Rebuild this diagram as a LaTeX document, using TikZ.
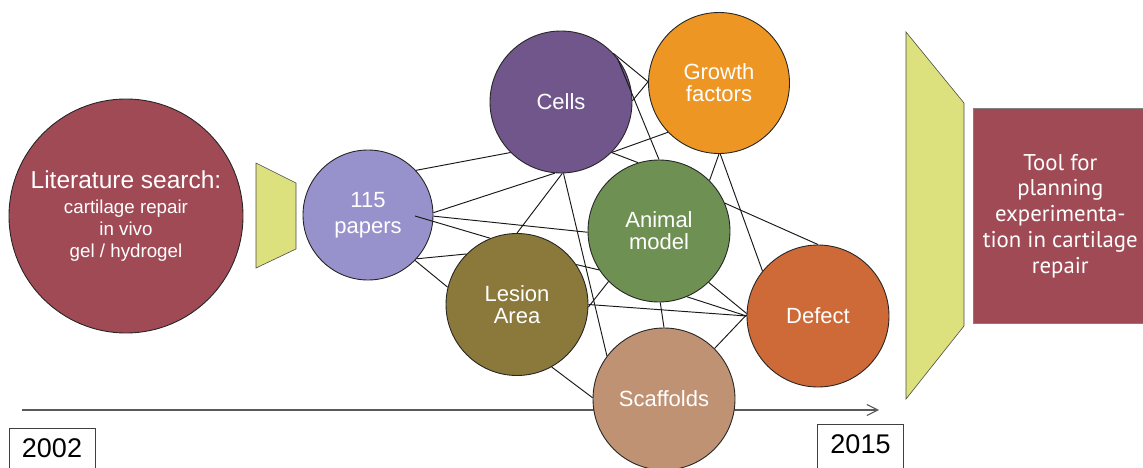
\documentclass[tikz,border=0pt]{standalone}
\usepackage{fontspec}
\setmainfont{Liberation Sans}
\newfontfamily\ptsans{PT Sans}
\usetikzlibrary{arrows.meta}
\definecolor{litred}{RGB}{160,74,86}
\definecolor{trapy}{RGB}{220,225,126}
\definecolor{papersc}{RGB}{152,146,204}
\definecolor{cellsc}{RGB}{113,86,140}
\definecolor{growthc}{RGB}{237,150,36}
\definecolor{animalc}{RGB}{110,145,83}
\definecolor{lesionc}{RGB}{138,121,59}
\definecolor{defectc}{RGB}{206,106,56}
\definecolor{scaffc}{RGB}{191,146,116}
\definecolor{edgec}{RGB}{25,25,25}
\begin{document}
\begin{tikzpicture}[x=1pt,y=-1pt,
  topic/.style={circle, draw=black!85, line width=0.9pt, inner sep=0pt, minimum size=142pt, text=white, align=center, font=\fontsize{22}{22}\selectfont},
  link/.style={draw=edgec, line width=0.95pt},
  trap/.style={draw=black!70, line width=0.6pt, fill=trapy},
  yearbox/.style={draw=black!75, line width=0.8pt, inner sep=0pt, minimum width=86pt, text depth=20pt, anchor=base, font=\fontsize{27}{27}\selectfont},
  timeline/.style={draw=black!65, line width=1.2pt, -{Straight Barb[length=11pt,width=11pt,line width=1.1pt]}}
]
\useasboundingbox (0,0) rectangle (1143,468);
\coordinate (tstart) at (22,410);
\coordinate (tend) at (879,410);
\draw[timeline] (tstart) -- (tend);

\node[topic, fill=litred, minimum size=234pt, font=\fontsize{18.75}{22}\selectfont] (lit) at (126,216)
  {{\fontsize{24.5}{25}\selectfont Literature search:}\\[3pt] cartilage repair\\ in vivo\\ gel / hydrogel};

\draw[trap] (256,163) -- (296,183) -- (296,249) -- (256,268) -- cycle;
\draw[trap] (906,32) -- (964,103) -- (964,326) -- (906,399) -- cycle;

\node[topic, fill=papersc, minimum size=130pt, font=\fontsize{22}{26}\selectfont] (papers) at (368,215) {115\\papers};
\node[topic, fill=cellsc] (cells) at (561,102) {Cells};
\node[topic, fill=growthc, minimum size=141pt] (growth) at (719,83) {Growth\\factors};
\node[topic, fill=animalc] (animal) at (659,231) {Animal\\model};
\node[topic, fill=lesionc] (lesion) at (517,304.5) {Lesion\\Area};
\node[topic, fill=defectc] (defect) at (818,316) {Defect};
\node[topic, fill=scaffc] (scaff) at (664,399) {Scaffolds};

\node[draw=black!50, line width=0.6pt, fill=litred, minimum width=174pt, minimum height=215pt, anchor=north west, inner sep=0pt, text=white, align=center, font=\ptsans\fontsize{22.8}{25.75}\selectfont] (tool) at (973,108)
  {Tool for\\planning\\experimenta-\\tion in cartilage\\repair};

\node[yearbox, text height=29pt] (y2002) at (52,457) {2002};
\node[yearbox, text height=29pt] (y2015) at (860.5,453) {2015};

\draw[link] (papers.43.8) -- (cells.225);
\draw[link] (papers.2) -- (cells.265);
\draw[link] (papers.359) -- (animal.181.7);
\draw[link] (papers.318) -- (lesion.135.6);
\draw[link] (papers.316) -- (lesion.166);
\draw[link] (cells.43.9) -- (growth.179);
\draw[link] (cells.1.6) -- (growth.179);
\draw[link] (cells.38.8) -- (animal.90.8);
\draw[link] (cells.315.6) -- (growth.224.4);
\draw[link] (cells.315.6) -- (animal.107.2);
\draw[link] (cells.271.6) -- (lesion.90);
\draw[link] (cells.272.4) -- (scaff.143.6);
\draw[link] (growth.270) -- (animal.45);
\draw[link] (growth.271.6) -- (defect.141.3);
\draw[link] (animal.23) -- (defect.90.8);
\draw[link] (animal.314.4) -- (defect.178.4);
\draw[link] (animal.293.7) -- (defect.180);
\draw[link] (lesion.0.8) -- (defect.180.8);
\draw[link] (lesion.358.4) -- (animal.225.6);
\draw[link] (lesion.34.3) -- (animal.213.5);
\draw[link] (animal.271) -- (scaff.90.8);
\draw[link] (lesion.299) -- (scaff.179);
\draw[link] (scaff.45) -- (defect.179);
\path (papers.center) ++(47,1) coordinate (pin);
\draw[link] (pin) -- (lesion.112.2);
\end{tikzpicture}
\end{document}
